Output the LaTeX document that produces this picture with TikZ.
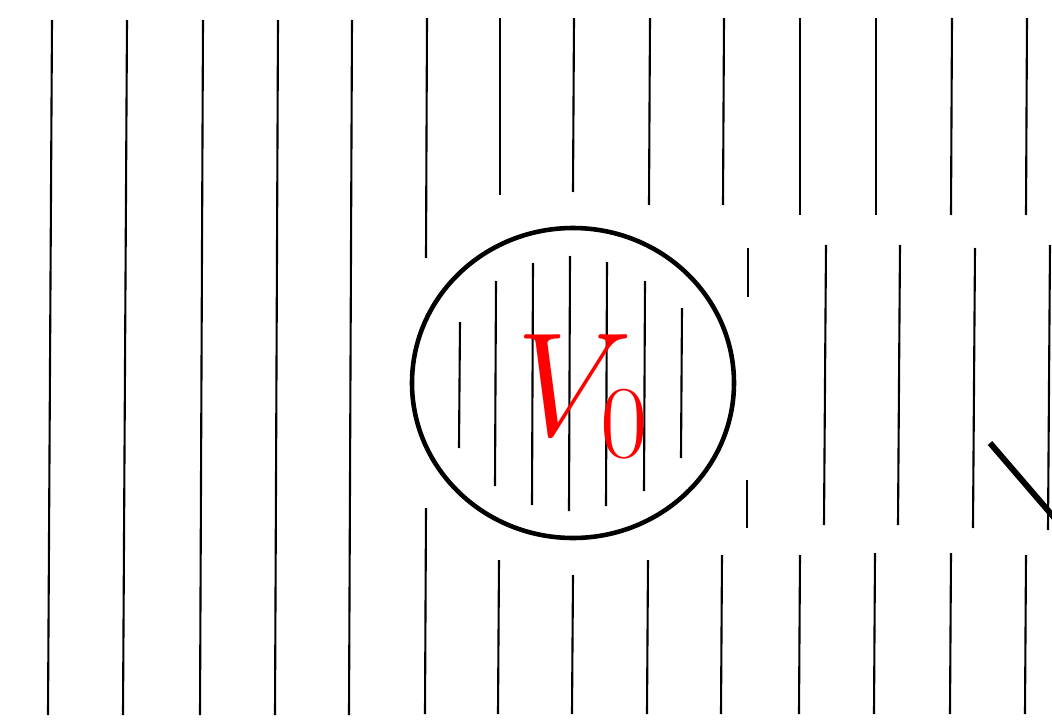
\RequirePackage{fix-cm}
\documentclass[tikz,border=0pt]{standalone}
\usepackage{tikz}
\colorlet{lbl}{red}

\begin{document}
\begin{tikzpicture}[x=0.1mm, y=-0.1mm,
    fieldline/.style={line width=0.6pt, black},
    rim/.style={line width=1.3pt, black}]

  % --- frame ------------------------------------------------------------------
  \clip (0,0) rectangle (1052,721);
  \fill[white] (0,0) rectangle (1052,721);

  % --- undisturbed lines on the left ------------------------------------------
  \foreach \xt/\xb in {52/48, 127/123, 203/200, 278/275, 352/349}
    \draw[fieldline] (\xt,20) -- (\xb,715);

  % --- lines broken by the sphere: upper and lower parts ----------------------
  \foreach \xt/\xb/\yb in {427/426/258, 500/500/195, 574/573/192, 650/649/205,
      724/723/205, 800/800/215, 876/876/215, 952/951/215, 1027/1026/215}
    \draw[fieldline] (\xt,18) -- (\xb,\yb);
  \foreach \xt/\yt/\xb in {426/508/425, 499/560/498, 573/575/572, 648/560/647,
      722/555/721, 800/555/799, 875/553/874, 951/553/950, 1026/555/1025}
    \draw[fieldline] (\xt,\yt) -- (\xb,714);

  % --- middle band on the right -----------------------------------------------
  \draw[fieldline] (748,248) -- (748,297);
  \draw[fieldline] (747,480) -- (747,528);
  \foreach \x/\yt/\yb in {826/245/525, 900/245/525, 975/248/528, 1050/245/530}
    \draw[fieldline] (\x,\yt) -- (\x-2,\yb);

  % --- the sphere and the lines inside it -------------------------------------
  \draw[rim] (573,383) ellipse [x radius=161, y radius=155];
  \foreach \x/\yt/\yb in {460/322/448, 496/281/486, 533/263/505, 570/256/511,
      607/262/506, 645/281/491, 682/308/458}
    \draw[fieldline] (\x,\yt) -- (\x-1,\yb);

  \node[lbl, inner sep=0, anchor=base west,
        font=\fontsize{42}{50}\selectfont] (vzero) at (516,435) {$V_0$};

  % --- pointer at the right edge ----------------------------------------------
  \draw[line width=1.7pt] (990,443) -- (1070,536);

\end{tikzpicture}
\end{document}
